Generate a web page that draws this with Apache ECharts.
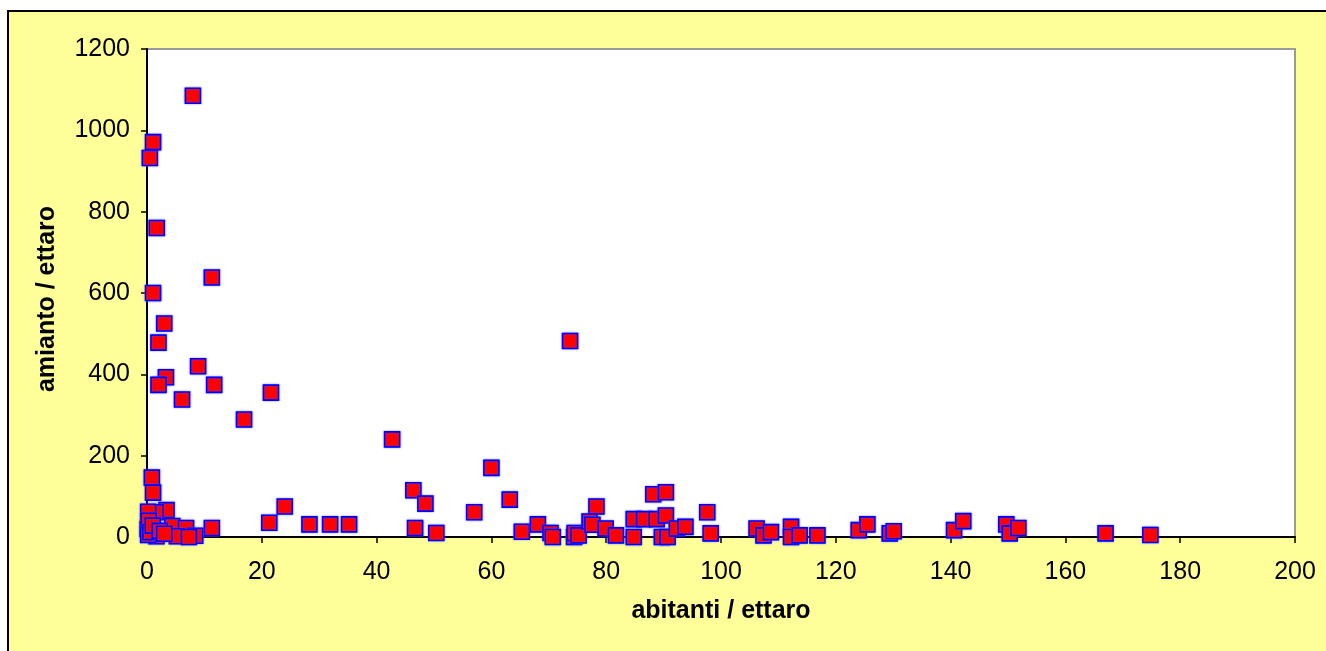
<!DOCTYPE html>
<html>
<head>
<meta charset="utf-8">
<script src="https://cdn.jsdelivr.net/npm/echarts@6/dist/echarts.min.js"></script>
<style>
html,body{margin:0;padding:0;background:#fff;}
#chart{width:1326px;height:651px;}
</style>
</head>
<body>
<div id="chart"></div>
<script>
// abitanti / ettaro
var abitanti = [8.0,0.5,1.05,1.7,11.3,1.05,3.0,2.0,8.9,3.3,2.0,11.7,6.1,21.6,16.9,11.3,21.3,24.0,0.85,1.05,3.4,1.5,0.2,4.4,6.8,1.65,5.2,8.4,7.3,0.1,0.2,0.3,0.6,1.0,2.2,3.0,28.3,31.9,35.2,42.7,46.4,48.5,46.7,50.4,60.0,57.0,63.2,65.3,68.1,70.3,70.7,74.4,74.5,75.2,73.7,78.3,77.1,77.6,79.9,81.7,84.8,84.8,86.6,88.2,90.4,88.8,90.4,89.7,90.7,92.3,93.8,97.6,98.2,106.2,107.4,108.7,112.2,112.2,113.7,116.8,124.0,125.5,129.4,130.1,140.6,142.2,149.7,150.3,151.8,167.0,174.8];
// amianto / ettaro
var amianto = [1085,932,971,760,638,600,525,478,420,393,374,374,338,355,289,22,35,75,146,109,66,61,62,27,22,2,2,3,0,20,5,40,12,28,15,8,31,31,31,240,115,82,22,10,170,61,92,13,31,10,0,0,10,4,482,75,38,30,21,4,44,0,44,105,110,44,53,0,0,21,25,61,9,21,4,12,25,0,4,4,17,31,9,14,17,39,31,9,22,9,5];

var xTitle = 'abitanti / ettaro';
var yTitle = 'amianto / ettaro';

var points = abitanti.map(function(v,i){return [v, amianto[i]];});

var chart = echarts.init(document.getElementById('chart'), null, {renderer:'canvas'});
var font = 'Liberation Sans, Arial, sans-serif';
chart.setOption({
  backgroundColor:'#ffffff',
  animation:false,
  graphic:[{
    type:'rect', z:-100, silent:true,
    shape:{x:8, y:11, width:1340, height:660},
    style:{fill:'#FFFF99', stroke:'#000', lineWidth:2}
  }],
  grid:{left:147, top:49, right:31, bottom:114, show:true, backgroundColor:'#ffffff', borderColor:'#9a9a9a', borderWidth:2},
  xAxis:{
    type:'value', min:0, max:200, interval:20,
    name:xTitle, nameLocation:'middle', nameGap:62,
    nameTextStyle:{fontFamily:font, fontWeight:'bold', fontSize:25, color:'#000'},
    axisLine:{show:true, onZero:false, lineStyle:{color:'#000', width:2}},
    axisTick:{show:true, inside:false, length:6, lineStyle:{color:'#000', width:1.5}},
    axisLabel:{fontFamily:font, fontSize:25, color:'#000', margin:23},
    splitLine:{show:false}
  },
  yAxis:{
    type:'value', min:0, max:1200, interval:200,
    name:yTitle, nameLocation:'middle', nameGap:87, nameRotate:90,
    nameTextStyle:{fontFamily:font, fontWeight:'bold', fontSize:25, color:'#000', padding:[0,12,0,0]},
    axisLine:{show:true, onZero:false, lineStyle:{color:'#000', width:2}},
    axisTick:{show:true, inside:false, length:6, lineStyle:{color:'#000', width:1.5}},
    axisLabel:{fontFamily:font, fontSize:25, color:'#000', margin:17, formatter:function(v){return String(v);}},
    splitLine:{show:false}
  },
  series:[{
    type:'scatter',
    data:points,
    symbol:'rect',
    symbolSize:15,
    itemStyle:{color:'#FF0000', borderColor:'#0000FF', borderWidth:1.6, opacity:1,
      shadowColor:'rgba(90,90,255,0.7)', shadowBlur:2},
    emphasis:{disabled:true}
  }]
});
</script>
</body>
</html>
